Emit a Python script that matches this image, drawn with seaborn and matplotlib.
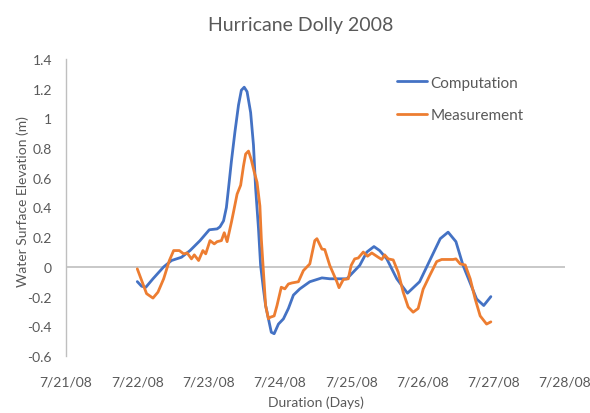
import numpy as np
import pandas as pd
import matplotlib
matplotlib.use("Agg")
import matplotlib.pyplot as plt
import seaborn as sns
from matplotlib.lines import Line2D

# ---- data (day of July 2008, water surface elevation in m) ----
comp_day = [22.00, 22.06, 22.12, 22.22, 22.37, 22.48, 22.62, 22.74, 22.88, 23.01,
            23.12, 23.16, 23.21, 23.25, 23.28, 23.32, 23.37, 23.42, 23.46, 23.50,
            23.54, 23.59, 23.63, 23.66, 23.70, 23.73, 23.77, 23.80, 23.84, 23.88,
            23.92, 23.98, 24.05, 24.12, 24.19, 24.28, 24.42, 24.59, 24.70, 24.94,
            25.12, 25.22, 25.32, 25.40, 25.50, 25.64, 25.79, 25.96, 26.10, 26.25,
            26.36, 26.47, 26.57, 26.76, 26.86, 26.96]
comp_val = [-0.099, -0.13, -0.137, -0.08, 0.00, 0.043, 0.065, 0.11, 0.177, 0.25,
            0.256, 0.27, 0.31, 0.40, 0.53, 0.71, 0.91, 1.09, 1.19, 1.21,
            1.18, 1.04, 0.82, 0.53, 0.26, 0.01, -0.15, -0.26, -0.35, -0.44,
            -0.45, -0.385, -0.35, -0.28, -0.19, -0.148, -0.10, -0.074, -0.08, -0.08,
            0.01, 0.10, 0.137, 0.11, 0.054, -0.08, -0.177, -0.10, 0.04, 0.19,
            0.234, 0.17, 0.01, -0.216, -0.26, -0.20]

meas_day = [22.00, 22.06, 22.13, 22.22, 22.29, 22.37, 22.45, 22.51, 22.59, 22.65,
            22.70, 22.76, 22.80, 22.86, 22.92, 22.96, 23.02, 23.08, 23.12, 23.18,
            23.22, 23.26, 23.32, 23.35, 23.40, 23.45, 23.49, 23.52, 23.56, 23.60,
            23.64, 23.68, 23.72, 23.74, 23.77, 23.80, 23.84, 23.86, 23.92, 23.96,
            24.02, 24.07, 24.12, 24.17, 24.26, 24.33, 24.42, 24.49, 24.52, 24.59,
            24.63, 24.70, 24.80, 24.83, 24.89, 24.96, 25.00, 25.05, 25.10, 25.17,
            25.23, 25.29, 25.38, 25.43, 25.47, 25.52, 25.59, 25.66, 25.73, 25.80,
            25.87, 25.94, 26.01, 26.10, 26.20, 26.27, 26.43, 26.47, 26.53, 26.60,
            26.67, 26.74, 26.81, 26.90, 26.96]
meas_val = [-0.013, -0.09, -0.18, -0.21, -0.17, -0.08, 0.043, 0.11, 0.11, 0.088,
            0.094, 0.054, 0.081, 0.043, 0.11, 0.088, 0.177, 0.155, 0.17, 0.177,
            0.23, 0.17, 0.30, 0.37, 0.49, 0.55, 0.68, 0.76, 0.78, 0.72,
            0.64, 0.57, 0.41, 0.19, -0.036, -0.26, -0.35, -0.34, -0.33, -0.26,
            -0.137, -0.148, -0.115, -0.108, -0.10, -0.025, 0.02, 0.177, 0.19, 0.12,
            0.117, 0.01, -0.10, -0.14, -0.085, -0.08, 0.01, 0.054, 0.06, 0.10,
            0.072, 0.094, 0.065, 0.05, 0.081, 0.054, 0.047, -0.036, -0.17, -0.27,
            -0.305, -0.28, -0.15, -0.06, 0.036, 0.05, 0.05, 0.054, 0.02, 0.013,
            -0.08, -0.216, -0.33, -0.385, -0.37]

tick_days = [21, 22, 23, 24, 25, 26, 27, 28]
tick_labels = ["7/21/08", "7/22/08", "7/23/08", "7/24/08", "7/25/08",
               "7/26/08", "7/27/08", "7/28/08"]
y_ticks = [-0.6, -0.4, -0.2, 0, 0.2, 0.4, 0.6, 0.8, 1, 1.2, 1.4]
y_tick_labels = ["-0.6", "-0.4", "-0.2", "0", "0.2", "0.4", "0.6", "0.8", "1", "1.2", "1.4"]

series_names = ["Computation", "Measurement"]
colors = {"Computation": "#4472C4", "Measurement": "#ED7D31"}

base = pd.Timestamp("2008-07-01")
def to_date(days):
    return base + pd.to_timedelta(np.asarray(days, dtype=float) - 1, unit="D")

df = pd.concat([
    pd.DataFrame({"date": to_date(comp_day), "value": comp_val, "series": series_names[0]}),
    pd.DataFrame({"date": to_date(meas_day), "value": meas_val, "series": series_names[1]}),
], ignore_index=True)

sns.set_style("white")
plt.rcParams["font.family"] = ["Lato", "DejaVu Sans"]

text_col = "#595959"
fig = plt.figure(figsize=(5.9, 4.14), dpi=100)
ax = fig.add_axes([66 / 590, 1 - 357 / 414, (565 - 66) / 590, (357 - 60) / 414])

sns.lineplot(data=df, x="date", y="value", hue="series", sort=False,
             palette=colors, linewidth=2.0, ax=ax, legend=False)
for ln in ax.get_lines():
    ln.set_solid_joinstyle("round")
    ln.set_solid_capstyle("round")

ax.axhline(0, color="#BFBFBF", linewidth=1.2, zorder=0)

ax.set_xlim(to_date([21])[0], to_date([28])[0])
ax.set_ylim(-0.6, 1.4)
ax.set_xticks(to_date(tick_days))
ax.set_xticklabels(tick_labels)
ax.set_yticks(y_ticks)
ax.set_yticklabels(y_tick_labels)
ax.tick_params(axis="both", length=0, labelsize=10, colors=text_col)
ax.tick_params(axis="x", pad=14)
ax.tick_params(axis="y", pad=10)

for s in ["top", "right", "bottom"]:
    ax.spines[s].set_visible(False)
ax.spines["left"].set_color("#BFBFBF")
ax.spines["left"].set_linewidth(1.0)

ax.set_xlabel("Duration (Days)", fontsize=10, color=text_col, labelpad=6)
ax.set_ylabel("Water Surface Elevation (m)", fontsize=10, color=text_col)
ax.yaxis.set_label_coords(-0.074, 0.525)
fig.text(0.51, 1 - 26 / 414, "Hurricane Dolly 2008", ha="center", va="center",
         fontsize=14, color=text_col)

handles = [Line2D([], [], color=colors[n], linewidth=2.0) for n in series_names]
ax.legend(handles, series_names, loc="upper left", bbox_to_anchor=(0.635, 0.99),
          frameon=False, fontsize=11, handlelength=2.0, handletextpad=0.2,
          labelspacing=1.2, labelcolor=text_col)

fig.savefig("out.png", dpi=100)
